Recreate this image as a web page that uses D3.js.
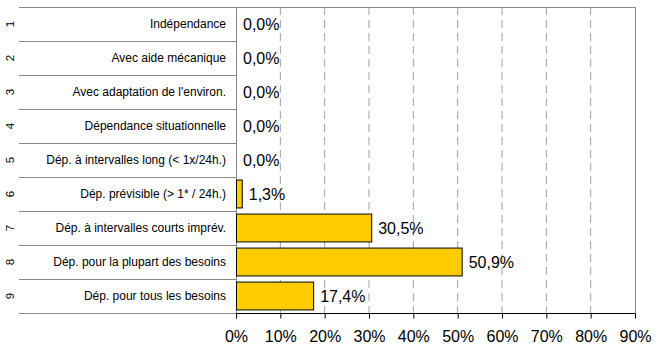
<!DOCTYPE html>
<html>
<head>
<meta charset="utf-8">
<script src="https://cdnjs.cloudflare.com/ajax/libs/d3/7.8.5/d3.min.js"></script>
<style>
  html, body { margin: 0; padding: 0; background: #fff; }
  svg { display: block; font-family: "Liberation Sans", Arial, sans-serif; }
</style>
</head>
<body>
<div id="chart"></div>
<script>
// categories (top to bottom) and their share of patients
const codes = ['1', '2', '3', '4', '5', '6', '7', '8', '9'];
const labels = [
    'Indépendance',
    'Avec aide mécanique',
    "Avec adaptation de l'environ.",
    'Dépendance situationnelle',
    'Dép. à intervalles long (< 1x/24h.)',
    'Dép. prévisible (> 1* / 24h.)',
    'Dép. à intervalles courts imprév.',
    'Dép. pour la plupart des besoins',
    'Dép. pour tous les besoins'
];
const values = [0.0, 0.0, 0.0, 0.0, 0.0, 1.3, 30.5, 50.9, 17.4];
const xTicks = [0, 10, 20, 30, 40, 50, 60, 70, 80, 90];

const width = 666, height = 345;
const margin = { top: 7, right: 31, bottom: 32, left: 236 };
const tableLeft = 19;

const svg = d3.select('#chart').append('svg')
    .attr('width', width)
    .attr('height', height);

const x = d3.scaleLinear()
    .domain([0, 90])
    .range([margin.left, width - margin.right]);

const y = d3.scaleBand()
    .domain(codes)
    .range([margin.top, height - margin.bottom])
    .paddingInner(0.18)
    .paddingOuter(0.09);

// dashed vertical gridlines
svg.append('g')
    .selectAll('line')
    .data(xTicks.slice(1, -1))
    .join('line')
    .attr('x1', d => x(d)).attr('x2', d => x(d))
    .attr('y1', margin.top).attr('y2', height - margin.bottom)
    .attr('stroke', '#a0a0a0')
    .attr('stroke-dasharray', '8,5');

// plot frame: top and right (gray)
svg.append('path')
    .attr('d', `M${x(0)},${margin.top + 0.5}H${x(90) + 0.5}V${height - margin.bottom}`)
    .attr('fill', 'none')
    .attr('stroke', '#888');

// category table rows
svg.append('g')
    .selectAll('line')
    .data(d3.range(codes.length + 1))
    .join('line')
    .attr('x1', tableLeft).attr('x2', margin.left)
    .attr('y1', i => Math.round(margin.top + i * y.step()) + 0.5)
    .attr('y2', i => Math.round(margin.top + i * y.step()) + 0.5)
    .attr('stroke', '#888');

// left axis line
svg.append('line')
    .attr('x1', margin.left + 0.5).attr('x2', margin.left + 0.5)
    .attr('y1', margin.top).attr('y2', height - margin.bottom)
    .attr('stroke', '#888');

svg.append('g')
    .selectAll('text')
    .data(codes)
    .join('text')
    .attr('transform', d => `translate(10,${y(d) + y.bandwidth() / 2}) rotate(-90)`)
    .attr('text-anchor', 'middle')
    .attr('dy', '0.35em')
    .attr('font-size', '11.5px')
    .attr('fill', '#000')
    .text(d => d);

svg.append('g')
    .selectAll('text')
    .data(codes)
    .join('text')
    .attr('x', 226)
    .attr('y', d => y(d) + y.bandwidth() / 2)
    .attr('dy', '0.35em')
    .attr('text-anchor', 'end')
    .attr('font-size', '12px')
    .attr('fill', '#000')
    .text((d, i) => labels[i]);

// bars
svg.append('g')
    .selectAll('rect')
    .data(values)
    .join('rect')
    .filter(d => d > 0)
    .attr('x', x(0) + 0.5)
    .attr('y', d => y(codes[values.indexOf(d)]))
    .attr('width', d => x(d) - x(0))
    .attr('height', y.bandwidth())
    .attr('fill', '#ffcc00')
    .attr('stroke', '#000')
    .attr('stroke-width', 1);

// value labels
svg.append('g')
    .selectAll('text')
    .data(values)
    .join('text')
    .attr('x', d => x(d) + 7)
    .attr('y', (d, i) => y(codes[i]) + y.bandwidth() / 2)
    .attr('dy', '0.35em')
    .attr('font-size', '16px')
    .attr('fill', '#000')
    .text(d => d.toFixed(1).replace('.', ',') + '%');

// bottom axis
const xAxis = svg.append('g')
    .attr('transform', `translate(0,${height - margin.bottom + 0.5})`)
    .call(d3.axisBottom(x).tickValues(xTicks).tickSize(5).tickPadding(12)
        .tickFormat(d => d + '%'));
xAxis.select('.domain').attr('stroke', '#000').attr('d', `M${x(0)},0H${x(90) + 0.5}`);
xAxis.selectAll('.tick line').attr('stroke', '#000');
xAxis.selectAll('.tick text')
    .attr('font-size', '16px')
    .attr('font-family', '"Liberation Sans", Arial, sans-serif')
    .attr('fill', '#000');
</script>
</body>
</html>
